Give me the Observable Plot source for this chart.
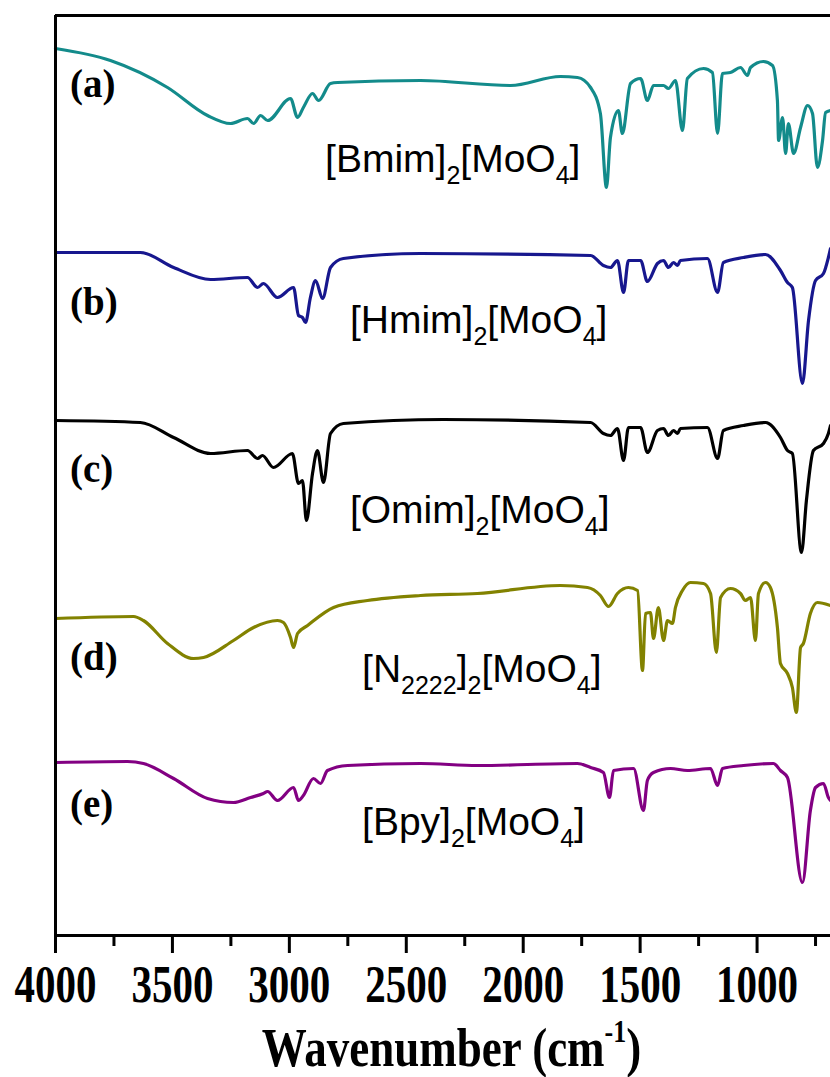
<!DOCTYPE html>
<html><head><meta charset="utf-8">
<script src="https://cdn.jsdelivr.net/npm/d3@7"></script>
<script src="https://cdn.jsdelivr.net/npm/@observablehq/plot@0.6"></script>
<style>html,body{margin:0;padding:0;background:#fff;overflow:hidden}</style>
</head><body><div id="chart"></div>
<script>
// ---- data (wavenumber cm^-1, offset transmittance a.u.) ----
const panelLetters = ["(a)", "(b)", "(c)", "(d)", "(e)"];
const cations = ["Bmim", "Hmim", "Omim", "N2222", "Bpy"];
const seriesColors = ["#138b8b", "#17178e", "#000000", "#828200", "#820082"];

const wnA = [4000,3765,3521,3350,3252,3179,3153,3123,3093,2995,2965,2940,2901,2875,2824,2794,2439,2054,1841,1768,1712,1670,1644,1627,1593,1576,1541,1498,1469,1443,1400,1379,1349,1319,1298,1229,1191,1169,1148,1114,1071,1041,1028,973,934,913,908,891,878,866,844,814,784,763,742,720,707,686];
const tA  = [88.7,87.5,84.8,82.0,81.2,81.7,81.2,82.0,81.5,83.7,81.8,82.8,84.2,83.5,85.2,85.3,85.5,85.0,85.9,85.8,84.8,82.2,74.8,79.8,82.5,80.2,85.2,85.7,83.5,85.0,85.0,84.7,85.5,80.5,85.7,86.7,86.3,80.2,86.2,86.3,86.8,86.0,86.8,87.4,87.0,83.5,79.5,81.8,78.2,81.2,78.2,80.8,83.0,82.2,76.8,79.5,82.3,82.5];

const wnB = [4000,3637,3495,3337,3179,3136,3111,3051,2982,2961,2944,2931,2910,2888,2858,2824,2769,2439,1712,1657,1627,1597,1571,1550,1498,1469,1426,1400,1379,1357,1340,1328,1212,1169,1144,1058,964,900,870,849,806,780,750,716,695,686];
const tB  = [68.3,68.3,66.8,65.6,65.8,64.8,65.2,63.8,64.8,62.0,61.8,61.3,63.8,65.5,63.7,66.8,67.7,68.2,68.0,67.0,66.8,67.5,64.3,67.5,67.5,65.4,67.2,67.5,66.8,67.3,67.0,67.5,67.7,64.3,67.3,67.8,68.1,66.5,65.3,64.8,55.2,61.5,65.5,66.2,67.8,68.7];

const wnC = [4000,3637,3495,3337,3179,3136,3115,3068,2987,2961,2944,2927,2901,2880,2854,2824,2769,2341,1712,1657,1627,1597,1571,1550,1498,1469,1426,1400,1379,1357,1340,1328,1212,1169,1144,1058,964,900,870,849,810,789,759,716,695,686];
const tC  = [51.5,51.3,49.8,48.2,48.5,47.7,48.0,46.8,48.2,45.2,45.5,41.5,46.2,48.5,45.3,50.2,51.2,51.6,51.3,50.2,50.0,50.7,47.5,50.8,50.8,48.3,50.5,50.7,50.0,50.5,50.2,50.7,50.8,47.7,50.5,51.0,51.3,49.8,48.5,48.2,38.3,43.5,48.5,49.2,50.2,51.0];

const wnD = [4000,3666,3624,3521,3410,3367,3239,3153,3051,3025,2995,2982,2965,2922,2811,2666,2439,2196,1841,1725,1670,1635,1597,1550,1511,1490,1477,1456,1443,1422,1400,1383,1362,1349,1319,1285,1229,1199,1174,1156,1114,1071,1050,1028,1007,994,964,943,913,900,870,849,832,814,802,772,742,686];
const tD  = [31.7,31.9,31.5,29.2,27.7,27.8,29.5,30.8,31.5,31.3,29.8,28.8,30.2,31.0,32.8,33.5,34.0,34.2,35.0,34.8,34.0,32.9,34.2,34.8,34.5,26.5,32.2,32.3,29.7,32.8,29.5,31.5,31.2,32.8,34.5,35.3,35.2,34.2,28.3,33.8,34.7,34.2,33.5,33.8,29.5,34.2,35.3,34.8,30.8,27.2,26.2,24.8,22.3,28.8,29.2,32.2,33.3,33.0];

const wnE = [4000,3692,3624,3495,3350,3239,3166,3111,3093,3051,2982,2961,2940,2897,2867,2837,2751,2439,2196,1768,1712,1657,1631,1614,1528,1486,1469,1443,1370,1298,1199,1169,1148,1058,930,900,870,806,772,750,716,695,686];
const tE  = [17.3,17.4,17.2,15.7,13.7,13.3,13.8,14.2,14.4,13.5,14.8,13.5,14.0,15.7,15.2,16.5,17.0,17.2,17.0,17.2,16.8,16.3,13.8,16.5,16.7,12.5,15.5,16.3,16.7,16.5,16.7,15.0,16.7,17.0,17.2,16.5,15.8,5.3,12.5,14.8,15.2,13.8,13.5];

const majorTicks = [4000, 3500, 3000, 2500, 2000, 1500, 1000];
const minorTicks = [3750, 3250, 2750, 2250, 1750, 1250, 750];

// ---- build table ----
const wnList = [wnA, wnB, wnC, wnD, wnE];
const tList = [tA, tB, tC, tD, tE];
const spectra = wnList.map((wns, s) => wns.map((w, i) => ({wn: w, t: tList[s][i], s})));

const serif = "'Liberation Serif','Times New Roman',serif";
const sans = "'Liberation Sans',Arial,sans-serif";

const chart = Plot.plot({
  width: 830,
  height: 1077,
  marginTop: 15,
  marginBottom: 142,
  marginLeft: 55,
  marginRight: 0,
  style: {background: "#fff", color: "#000", overflow: "visible"},
  x: {domain: [4000, 686]},
  y: {domain: [0, 92], axis: null},
  marks: [
    ...spectra.map((d, s) => Plot.line(d, {x: "wn", y: "t", stroke: seriesColors[s], strokeWidth: 3.2, curve: "monotone-x", strokeLinejoin: "round", strokeLinecap: "round"})),
    Plot.ruleY([0], {stroke: "#000", strokeWidth: 3}),
    Plot.ruleY([92], {stroke: "#000", strokeWidth: 3}),
    Plot.ruleX([4000], {stroke: "#000", strokeWidth: 3}),
    Plot.ruleX(minorTicks, {x: d => d, y1: 0, y2: -1.1, stroke: "#000", strokeWidth: 3}),
    Plot.axisX(majorTicks, {tickSize: 18, tickPadding: 12, strokeWidth: 3, stroke: "#000", tickFormat: d => String(d),
      fontSize: 41, fontWeight: "bold", fontFamily: serif, fill: "#000", label: null})
  ]
});
document.getElementById("chart").appendChild(chart);

// stretch axis tick labels vertically like the reference
const svg = d3.select(chart);
svg.selectAll('g[aria-label="x-axis tick label"] text').each(function() {
  const tr = this.getAttribute("transform") || "";
  this.setAttribute("transform", tr + " scale(1,1.27)");
});

const sx = chart.scale("x"), sy = chart.scale("y");
const notes = svg.append("g").attr("text-anchor", "start");

// panel letters
const letterAnchors = [83.8, 62.0, 45.3, 26.5, 11.8];
panelLetters.forEach((L, i) => {
  notes.append("text").attr("x", sx.apply(3936)).attr("y", sy.apply(letterAnchors[i]))
    .attr("font-family", serif).attr("font-weight", "bold").attr("font-size", 39).attr("fill", "#000").text(L);
});

// compound labels with subscripts
const labelAnchors = [[2845, 76.3], [2739, 60.2], [2739, 41.2], [2687, 25.3], [2687, 10.0]];
cations.forEach((c, i) => {
  const [w, t] = labelAnchors[i];
  const txt = notes.append("text").attr("x", sx.apply(w)).attr("y", sy.apply(t))
    .attr("font-family", sans).attr("font-size", 39).attr("fill", "#000");
  const m = c.match(/^([A-Za-z]+)(\d*)$/);
  txt.append("tspan").text("[" + m[1]);
  if (m[2]) { txt.append("tspan").attr("font-size", 25).attr("dy", 12).text(m[2]); txt.append("tspan").attr("dy", -12).text("]"); }
  else txt.append("tspan").text("]");
  txt.append("tspan").attr("font-size", 25).attr("dy", 12).text("2");
  txt.append("tspan").attr("dy", -12).text("[MoO");
  txt.append("tspan").attr("font-size", 25).attr("dy", 12).text("4");
  txt.append("tspan").attr("dy", -12).text("]");
});

// axis title
const xm = (sx.apply(4000) + 830) / 2 + 9;
const title = svg.append("text").attr("transform", `translate(${xm},1066) scale(1,1.21)`)
  .attr("text-anchor", "middle").attr("font-family", serif).attr("font-weight", "bold").attr("font-size", 45).attr("fill", "#000");
title.append("tspan").text("Wavenumber (cm");
title.append("tspan").attr("font-size", 26).attr("dy", -20).text("-1");
title.append("tspan").attr("dy", 20).text(")");
</script>
</body></html>
